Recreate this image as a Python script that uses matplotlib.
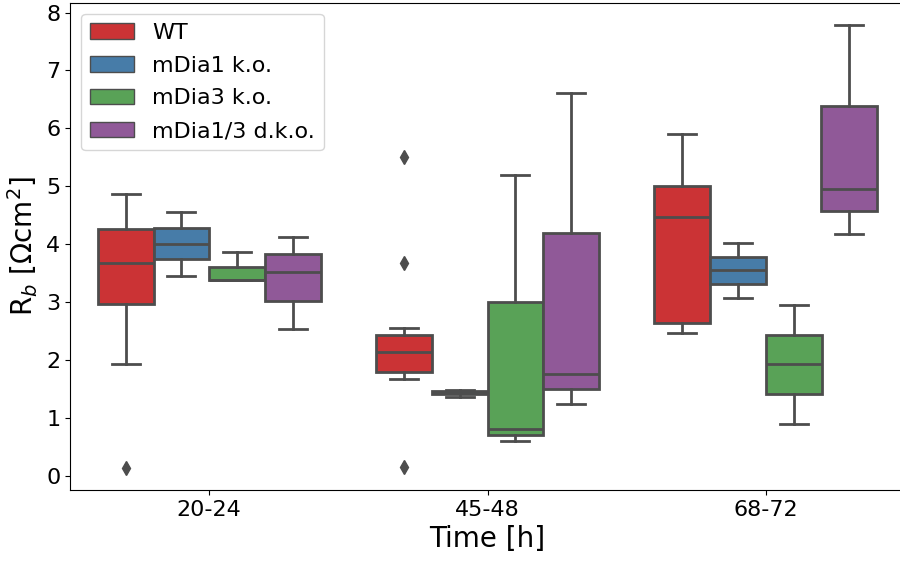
import matplotlib
matplotlib.use("Agg")
import matplotlib.pyplot as plt
from matplotlib.patches import Patch
import seaborn as sns

times = ["20-24", "45-48", "68-72"]
groups = ["WT", "mDia1 k.o.", "mDia3 k.o.", "mDia1/3 d.k.o."]

# box statistics per group, one entry per time: [low whisker, Q1, median, Q3, high whisker]
wt_stats = [[1.94, 2.97, 3.67, 4.27, 4.87],
            [1.68, 1.79, 2.15, 2.44, 2.55],
            [2.47, 2.64, 4.48, 5.01, 5.91]]
mdia1_stats = [[3.45, 3.74, 4.00, 4.28, 4.56],
               [1.37, 1.41, 1.44, 1.46, 1.49],
               [3.08, 3.31, 3.55, 3.78, 4.02]]
mdia3_stats = [[3.38, 3.38, 3.385, 3.61, 3.86],
               [0.61, 0.71, 0.82, 3.01, 5.19],
               [0.90, 1.42, 1.93, 2.44, 2.95]]
dko_stats = [[2.53, 3.03, 3.52, 3.83, 4.13],
             [1.24, 1.50, 1.77, 4.19, 6.61],
             [4.18, 4.57, 4.95, 6.38, 7.79]]
# outliers per group and time
wt_fliers = [[0.14], [5.50, 3.68, 0.15], []]
mdia1_fliers = [[], [], []]
mdia3_fliers = [[], [], []]
dko_fliers = [[], [], []]

all_stats = [wt_stats, mdia1_stats, mdia3_stats, dko_stats]
all_fliers = [wt_fliers, mdia1_fliers, mdia3_fliers, dko_fliers]

base = sns.color_palette("Set1", 4)
colors = [sns.desaturate(c, 0.75) for c in base]
gray = (0.3, 0.3, 0.3)

fig = plt.figure(figsize=(9, 5.61), dpi=100)
ax = fig.add_axes([70 / 900, 1 - 490 / 561, 835 / 900, 487.3 / 561])

offsets = [-0.3, -0.1, 0.1, 0.3]
for gi, (stats, fl) in enumerate(zip(all_stats, all_fliers)):
    bxps = []
    for ti in range(len(times)):
        lo, q1, med, q3, hi = stats[ti]
        bxps.append(dict(whislo=lo, q1=q1, med=med, q3=q3, whishi=hi,
                         fliers=fl[ti], label=times[ti]))
    pos = [ti + offsets[gi] for ti in range(len(times))]
    ax.bxp(bxps, positions=pos, widths=0.2, patch_artist=True,
           showfliers=True, manage_ticks=False,
           boxprops=dict(facecolor=colors[gi], edgecolor=gray, linewidth=2),
           medianprops=dict(color=gray, linewidth=2),
           whiskerprops=dict(color=gray, linewidth=2),
           capprops=dict(color=gray, linewidth=2),
           flierprops=dict(marker='d', markerfacecolor=gray, markeredgecolor=gray,
                           markersize=7, linestyle='none'))

ax.set_xlim(-0.5, 2.5)
ax.set_ylim(-0.24, 8.17)
ax.set_xticks(range(len(times)))
ax.set_xticklabels(times, fontsize=16)
ax.set_yticks(range(0, 9))
ax.tick_params(axis='y', labelsize=16)
ax.set_xlabel("Time [h]", fontsize=20)
ax.set_ylabel("R$_b$ [Ωcm$^2$]", fontsize=20)

handles = [Patch(facecolor=colors[i], edgecolor=gray, linewidth=1, label=groups[i])
           for i in range(len(groups))]
ax.legend(handles=handles, loc='upper left', fontsize=16, labelspacing=0.58)

fig.savefig("out.png", dpi=100)
